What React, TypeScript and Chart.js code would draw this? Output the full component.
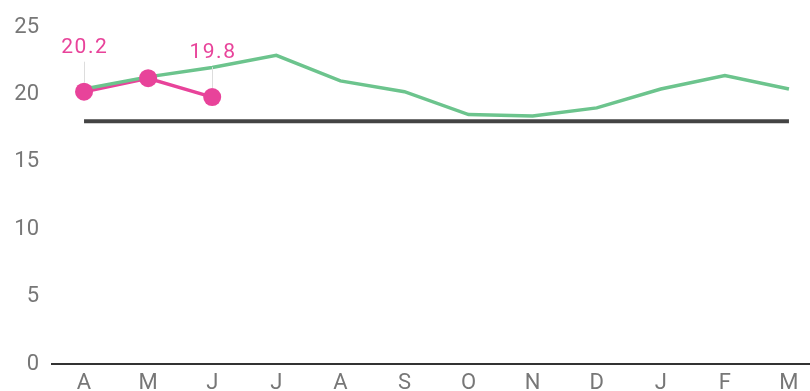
import React, { useEffect, useRef } from "react";
import { Chart, registerables } from "chart.js";

Chart.register(...registerables);

const months = ["A", "M", "J", "J", "A", "S", "O", "N", "D", "J", "F", "M"];
const seasonAverage = [20.4, 21.3, 22.0, 22.9, 21.0, 20.2, 18.5, 18.4, 19.0, 20.4, 21.4, 20.4];
const currentSeason = [20.2, 21.2, 19.8];
const targetLevel = [18, 18, 18, 18, 18, 18, 18, 18, 18, 18, 18, 18];
const labelledPoints = [0, 2];

const PINK = "#e8439a";
const GREEN = "#6cc48d";
const FONT = "Roboto, 'Noto Sans', sans-serif";

const valueLabels = {
  id: "valueLabels",
  afterDatasetsDraw(chart: Chart) {
    const meta = chart.getDatasetMeta(3);
    const ctx: any = chart.ctx;
    ctx.save();
    labelledPoints.forEach((i) => {
      const el: any = meta.data[i];
      if (!el) return;
      const x = el.x;
      const y = el.y;
      ctx.strokeStyle = "#dddddd";
      ctx.lineWidth = 1;
      ctx.beginPath();
      ctx.moveTo(Math.round(x) + 0.5, y - 30);
      ctx.lineTo(Math.round(x) + 0.5, y - 9);
      ctx.stroke();
      ctx.font = `21px ${FONT}`;
      ctx.letterSpacing = "1.5px";
      ctx.textAlign = "center";
      ctx.textBaseline = "middle";
      ctx.lineJoin = "round";
      ctx.strokeStyle = "#ffffff";
      ctx.lineWidth = 4;
      const text = currentSeason[i].toFixed(1);
      ctx.strokeText(text, x + 0.75, y - 44);
      ctx.fillStyle = PINK;
      ctx.fillText(text, x + 0.75, y - 44);
    });
    ctx.restore();
  },
};

export default function App() {
  const ref = useRef<HTMLCanvasElement>(null);

  useEffect(() => {
    document.body.style.overflow = "hidden";
    const chart = new Chart(ref.current!, {
      type: "line",
      data: {
        labels: months,
        datasets: [
          {
            data: targetLevel,
            borderColor: "#444444",
            borderWidth: 4,
            pointRadius: 0,
            order: 4,
          },
          {
            data: currentSeason,
            borderColor: PINK,
            borderWidth: 3.5,
            pointRadius: 0,
            order: 3,
          },
          {
            data: seasonAverage,
            borderColor: GREEN,
            borderWidth: 3.5,
            pointRadius: 0,
            order: 2,
          },
          {
            data: currentSeason,
            showLine: false,
            pointRadius: 9,
            pointBackgroundColor: PINK,
            pointBorderColor: PINK,
            pointBorderWidth: 0,
            order: 1,
          },
        ],
      },
      options: {
        animation: false,
        responsive: false,
        maintainAspectRatio: false,
        layout: { padding: { top: 27, right: 0, bottom: 0, left: 0 } },
        plugins: { legend: { display: false }, tooltip: { enabled: false } },
        scales: {
          x: {
            offset: true,
            grid: { display: false, drawTicks: false },
            border: { display: true, color: "#333333", width: 2 },
            ticks: { color: "#777777", font: { family: FONT, size: 22 }, padding: 6 },
            afterFit: (scale: any) => {
              scale.height = 36;
            },
          },
          y: {
            min: 0,
            max: 25,
            grid: { display: false, drawTicks: false },
            border: { display: false },
            ticks: { stepSize: 5, color: "#777777", font: { family: FONT, size: 22 }, padding: 13 },
            afterFit: (scale: any) => {
              scale.width = 52;
            },
          },
        },
      },
      plugins: [valueLabels],
    });
    return () => chart.destroy();
  }, []);

  return (
    <div style={{ position: "absolute", left: 0, top: 0, width: 830, height: 400 }}>
      <canvas ref={ref} width={830} height={400} />
    </div>
  );
}
